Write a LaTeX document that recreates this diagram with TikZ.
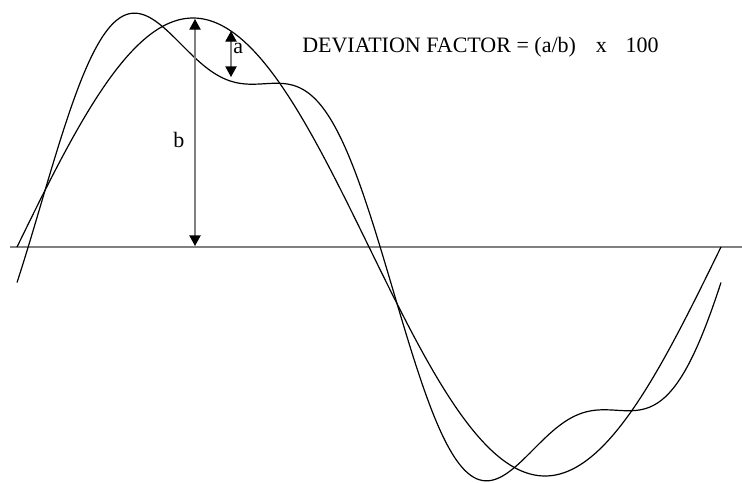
\documentclass[tikz,border=0pt]{standalone}
\usepackage{fontspec}
\setmainfont{Liberation Serif}
\usetikzlibrary{arrows.meta,positioning}

\begin{document}
\begin{tikzpicture}[
      x=0.75pt, y=-0.75pt,
      wave/.style={line width=0.9pt, black, smooth},
      axis/.style={line width=1.3pt, gray},
      measure/.style={{Triangle[width=8.5pt,length=8pt,black]}-{Triangle[width=8.5pt,length=8pt,black]},
                      line width=1pt, draw=gray},
      lbl/.style={font=\fontsize{16.5}{19}\selectfont, inner sep=0pt, anchor=base west},
    ]
    \useasboundingbox (0,0) rectangle (742,482);

    % Zero line
    \coordinate (axl) at (10,247);
    \coordinate (axr) at (742,247);
    \draw[axis] (axl) -- (axr);

    % Fundamental and distorted wave
    \draw[wave] plot[domain=17:721, samples=240]
      (\x, {247 - 229*sin(0.511364*(\x-17))});
    \draw[wave] plot[domain=17:721, samples=240]
      (\x, {247 - 229*sin(0.511364*(\x-17)) - 52*sin(1.534091*(\x-17) - 43.1)});

    % Measures a and b
    \coordinate (btop) at (195,19);
    \coordinate (bbot) at (195,246);
    \coordinate (atop) at (231,31);
    \coordinate (abot) at (231,77);
    \draw[measure] (bbot) -- (btop);
    \draw[measure] (abot) -- (atop);
    \node[lbl] (bl) at (173,147) {b};
    \node[lbl] (al) at (233,53) {a};

    \node[lbl] (formula) at (302,52)
      {DEVIATION FACTOR = (a/b)\hspace{15pt}x\hspace{14pt}100};
  \end{tikzpicture}
\end{document}
